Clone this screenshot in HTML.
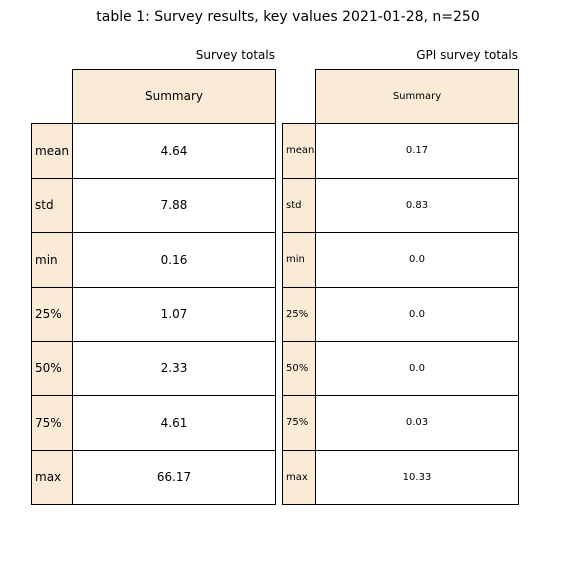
<!DOCTYPE html>
<html><head><meta charset="utf-8"><style>
body{margin:0;width:576px;height:576px;background:#fff;position:relative;font-family:"DejaVu Sans","Liberation Sans",sans-serif;overflow:hidden}
.c{position:absolute;box-sizing:border-box;border:1px solid #000;display:flex;align-items:center;color:#000}
.t{position:absolute;white-space:nowrap;color:#000}
</style></head><body>
<div class="t" style="left:0;width:576px;top:9px;text-align:center;font-size:14px">table 1: Survey results, key values 2021-01-28, n=250</div>
<script>
const rowLabels=["mean","std","min","25%","50%","75%","max"];
const surveyValues=["4.64","7.88","0.16","1.07","2.33","4.61","66.17"];
const gpiValues=["0.17","0.83","0.0","0.0","0.0","0.03","10.33"];
const root=document.body;
function cell(x,y,w,h,txt,bg,fs,center,name){
  const d=document.createElement('div');d.className='c';
  d.style.cssText=`left:${x}px;top:${y}px;width:${w+1}px;height:${h+1}px;background:${bg};font-size:${fs}px;justify-content:${center?'center':'flex-start'};padding-left:${center?0:3}px;padding-bottom:1px`;
  d.textContent=txt;
  
  
  root.appendChild(d);
}
function table(xl,x1,x2,title,vals,fs,prefix){
  const t=document.createElement('div');t.className='t';
  t.style.cssText=`right:${576-x2}px;top:48px;font-size:12px`;
  t.textContent=title;
  
  
  root.appendChild(t);
  cell(x1,69,x2-x1,54,'Summary','#faebd7',fs,true,prefix+'-header');
  const ys=[123,178,232,287,341,395,450,504];
  rowLabels.forEach((r,i)=>{
    cell(xl,ys[i],x1-xl,ys[i+1]-ys[i],r,'#faebd7',fs,false,prefix+'-row-label-'+r);
    cell(x1,ys[i],x2-x1,ys[i+1]-ys[i],vals[i],'#fff',fs,true,prefix+'-value-'+r);
  });
}
table(31,72,275,'Survey totals',surveyValues,12,'survey-table');
table(282,315,518,'GPI survey totals',gpiValues,10,'gpi-table');
</script>
</body></html>
